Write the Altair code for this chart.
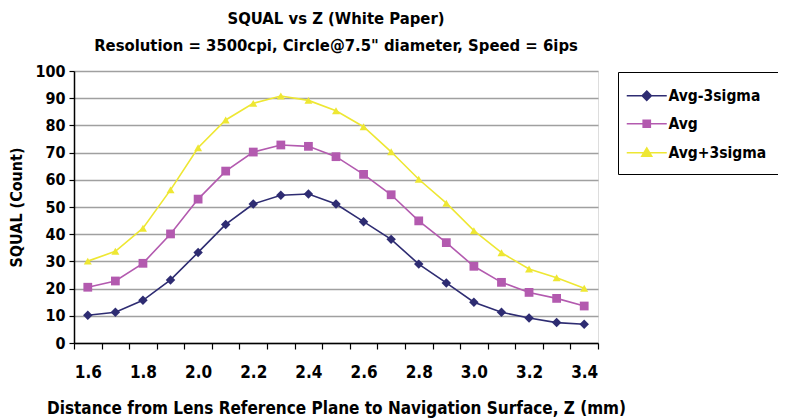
import altair as alt
import pandas as pd

FONT = "Liberation Sans Narrow, DejaVu Sans Condensed, Roboto Condensed, Arial Narrow, sans-serif"

z = [1.6, 1.7, 1.8, 1.9, 2.0, 2.1, 2.2, 2.3, 2.4, 2.5, 2.6, 2.7, 2.8, 2.9, 3.0, 3.1, 3.2, 3.3, 3.4]
avg_minus = [10.2, 11.3, 15.7, 23.2, 33.3, 43.6, 51.1, 54.3, 54.8, 51.1, 44.6, 38.1, 29.0, 22.1, 15.0, 11.3, 9.2, 7.5, 6.9]
avg = [20.5, 22.8, 29.3, 40.1, 52.9, 63.2, 70.2, 72.8, 72.3, 68.5, 62.0, 54.5, 44.9, 36.9, 28.2, 22.3, 18.6, 16.4, 13.6]
avg_plus = [30.1, 33.7, 42.2, 56.3, 71.8, 82.0, 88.1, 90.8, 89.2, 85.4, 79.5, 70.3, 60.2, 51.4, 41.3, 33.2, 27.2, 24.0, 20.1]

series_names = ["Avg-3sigma", "Avg", "Avg+3sigma"]
series_colors = ["#2E2C72", "#B35AAF", "#EEE733"]
series_shapes = ["diamond", "square", "triangle-up"]
series_sizes = [90, 64, 210]
legend_shapes = [
    "M-5,0L5,0M0,-1.15L1.15,0L0,1.15L-1.15,0Z",
    "M-5,0L5,0M-0.9,-0.9L0.9,-0.9L0.9,0.9L-0.9,0.9Z",
    "M-5,0L5,0M0,-1.2L1.25,0.9L-1.25,0.9Z",
]

x_label_values = [1.6, 1.8, 2.0, 2.2, 2.4, 2.6, 2.8, 3.0, 3.2, 3.4]
x_boundaries = [round(v - 0.05, 2) for v in z] + [round(z[-1] + 0.05, 2)]
y_ticks = [0, 10, 20, 30, 40, 50, 60, 70, 80, 90, 100]

rows = []
for name, vals in zip(series_names, [avg_minus, avg, avg_plus]):
    for zz, v in zip(z, vals):
        rows.append({"z": zz, "value": v, "series": name})
df = pd.DataFrame(rows)

color_scale = alt.Scale(domain=series_names, range=series_colors)
x_scale = alt.Scale(domain=[x_boundaries[0], x_boundaries[-1]], nice=False, zero=False)
y_scale = alt.Scale(domain=[0, 100], nice=False)

# axis carrying the category-boundary tick marks
x_ticks_axis = alt.Axis(
    orient="bottom",
    values=x_boundaries,
    labels=False,
    tickSize=6,
    tickWidth=1.2,
    tickColor="black",
    grid=False,
    domainColor="black",
    domainWidth=1.5,
    title=None,
)

# axis carrying the labels at category centres
x_labels_axis = alt.Axis(
    orient="bottom",
    values=x_label_values,
    format=".1f",
    ticks=False,
    domain=False,
    grid=False,
    labelFont=FONT,
    labelFontSize=17,
    labelFontWeight="bold",
    labelColor="black",
    labelPadding=21,
    labelFlush=False,
    labelOverlap=False,
    title="Distance from Lens Reference Plane to Navigation Surface, Z (mm)",
    titleFont=FONT,
    titleFontSize=17,
    titleFontWeight="bold",
    titleColor="black",
    titlePadding=20,
)

y_axis = alt.Axis(
    values=y_ticks,
    tickCount=11,
    tickSize=5,
    tickColor="black",
    tickWidth=1.2,
    domainColor="black",
    domainWidth=1.5,
    gridColor="#A0A0A0",
    gridWidth=1.5,
    labelFont=FONT,
    labelFontSize=16,
    labelFontWeight="bold",
    labelColor="black",
    labelPadding=4,
    labelOverlap=False,
    title="SQUAL (Count)",
    titleFont=FONT,
    titleFontSize=16,
    titleFontWeight="bold",
    titleColor="black",
    titlePadding=10,
)


def y_enc():
    return alt.Y("value:Q", scale=y_scale, axis=y_axis)


base = alt.Chart(df)

lines = base.mark_line(strokeWidth=1.6).encode(
    x=alt.X("z:Q", scale=x_scale, axis=x_ticks_axis),
    y=y_enc(),
    color=alt.Color("series:N", scale=color_scale, legend=None),
    detail="series:N",
)

points = base.mark_point(filled=True, opacity=1).encode(
    x=alt.X("z:Q", scale=x_scale, axis=x_labels_axis),
    y=y_enc(),
    color=alt.Color("series:N", scale=color_scale, legend=None),
    shape=alt.Shape("series:N", scale=alt.Scale(domain=series_names, range=series_shapes), legend=None),
    size=alt.Size("series:N", scale=alt.Scale(domain=series_names, range=series_sizes), legend=None),
)

leg = alt.Legend(
    title=" ",
    titleFontSize=4,
    titlePadding=0,
    orient="none",
    legendX=544,
    legendY=1,
    padding=12,
    symbolSize=64,
    symbolOffset=9,
    symbolStrokeWidth=1.5,
    symbolOpacity=1,
    labelOffset=14,
    labelFont=FONT,
    labelFontSize=15.5,
    labelFontWeight="bold",
    labelColor="black",
    rowPadding=11,
    strokeColor="black",
    fillColor="white",
    labelLimit=300,
)

legend_layer = base.mark_point(opacity=0).encode(
    x=alt.X("z:Q", scale=x_scale, axis=None),
    y=y_enc(),
    fill=alt.Fill("series:N", scale=alt.Scale(domain=series_names, range=series_colors), legend=leg),
    stroke=alt.Stroke("series:N", scale=alt.Scale(domain=series_names, range=series_colors), legend=leg),
    shape=alt.Shape("series:N", scale=alt.Scale(domain=series_names, range=legend_shapes), legend=leg),
)

chart = (
    alt.layer(lines, points, legend_layer)
    .resolve_scale(shape="independent", fill="independent", stroke="independent")
    .resolve_axis(x="independent")
    .properties(
        width=524,
        height=272,
        autosize=alt.AutoSizeParams(type="none"),
        padding={"left": 66, "top": 63, "right": 180, "bottom": 78},
        title=alt.TitleParams(
            text=["SQUAL vs Z (White Paper)", 'Resolution = 3500cpi, Circle@7.5" diameter, Speed = 6ips'],
            font=FONT,
            fontSize=16.5,
            fontWeight="bold",
            color="black",
            anchor="middle",
            lineHeight=27,
            offset=9,
        ),
    )
    .configure_view(stroke="#8A8A8A", strokeWidth=1.5)
    .configure(background="white")
)

chart.save("out.html", embed_options={"renderer": "svg", "actions": False})
